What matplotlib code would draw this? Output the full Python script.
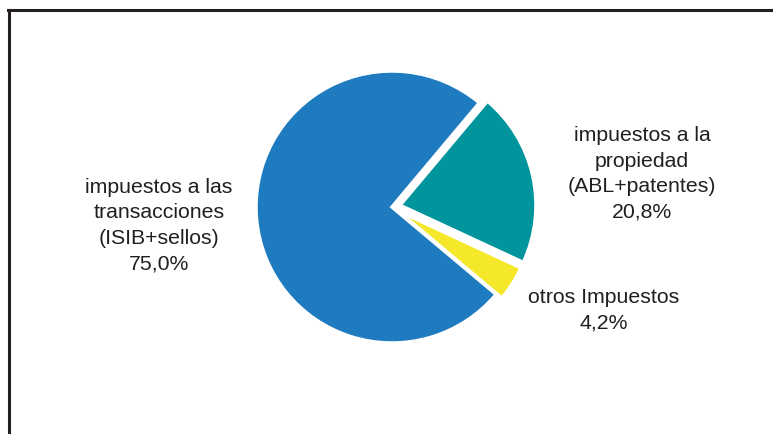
import matplotlib.pyplot as plt
from matplotlib.lines import Line2D

# shares of tax collection (%)
labels = ['impuestos a las\ntransacciones\n(ISIB+sellos)', 'impuestos a la\npropiedad\n(ABL+patentes)', 'otros Impuestos']
values = [75.0, 20.8, 4.2]
colors = ['#1f7bbf', '#00959c', '#f5e72a']
explode = [0, 0.06, 0.05]

# label block centres in pie units (radius = 1)
label_pos = [(-1.713, -0.136), (1.838, 0.243), (1.559, -0.757)]

plt.rcParams['font.family'] = ['Liberation Sans', 'DejaVu Sans']

W, H, dpi = 773, 434, 100
cx, cy, r = 392, 207, 136  # pie centre / radius in pixels

fig = plt.figure(figsize=(W / dpi, H / dpi), dpi=dpi)
ax = fig.add_axes([0, 0, 1, 1])
ax.axis('off')

ax.pie(values, colors=colors, explode=explode, startangle=-40, counterclock=False,
       radius=1, wedgeprops=dict(edgecolor='white', linewidth=2.5))
ax.set_xlim(-cx / r, (W - cx) / r)
ax.set_ylim(-(H - cy) / r, cy / r)

for lab, v, (x, y) in zip(labels, values, label_pos):
    txt = lab + '\n' + f'{v:.1f}%'.replace('.', ',')
    ax.text(x, y, txt, ha='center', va='center', fontsize=15.3,
            color='#231f20', linespacing=1.43)

# frame: left and top lines only
fig.add_artist(Line2D([9 / W, 9 / W], [0, 1 - 9.5 / H], transform=fig.transFigure,
                      color='#231f20', linewidth=2.2))
fig.add_artist(Line2D([8 / W, 1], [1 - 9.5 / H, 1 - 9.5 / H], transform=fig.transFigure,
                      color='#231f20', linewidth=2.2))

fig.savefig('out.png', dpi=dpi)
